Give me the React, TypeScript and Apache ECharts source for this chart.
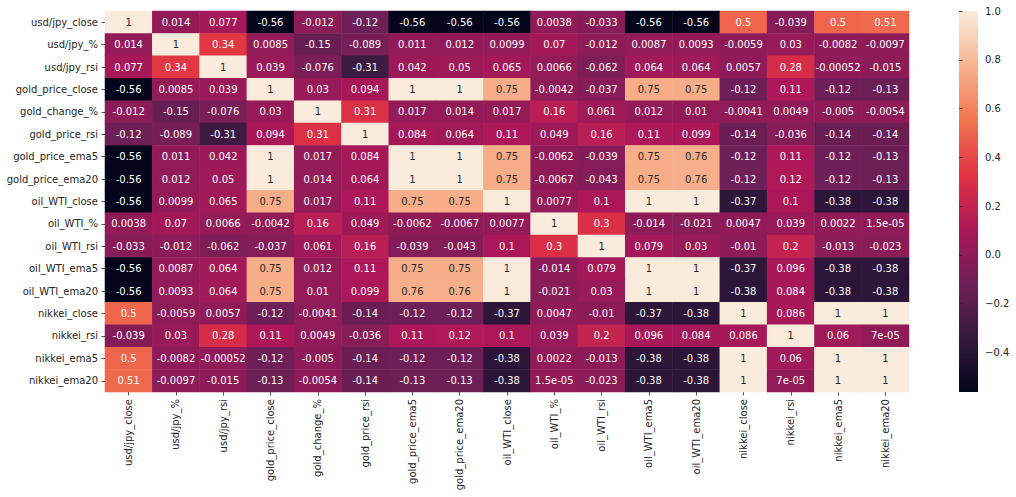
import React, { useEffect, useRef } from "react";
import * as echarts from "echarts";

const categories = [
  "usd/jpy_close", "usd/jpy_%", "usd/jpy_rsi", "gold_price_close", "gold_change_%",
  "gold_price_rsi", "gold_price_ema5", "gold_price_ema20", "oil_WTI_close", "oil_WTI_%",
  "oil_WTI_rsi", "oil_WTI_ema5", "oil_WTI_ema20", "nikkei_close", "nikkei_rsi",
  "nikkei_ema5", "nikkei_ema20",
];

const rowUsdJpyClose = [1, 0.014, 0.077, -0.56, -0.012, -0.12, -0.56, -0.56, -0.56, 0.0038, -0.033, -0.56, -0.56, 0.5, -0.039, 0.5, 0.51];
const rowUsdJpyPct = [0.014, 1, 0.34, 0.0085, -0.15, -0.089, 0.011, 0.012, 0.0099, 0.07, -0.012, 0.0087, 0.0093, -0.0059, 0.03, -0.0082, -0.0097];
const rowUsdJpyRsi = [0.077, 0.34, 1, 0.039, -0.076, -0.31, 0.042, 0.05, 0.065, 0.0066, -0.062, 0.064, 0.064, 0.0057, 0.28, -0.00052, -0.015];
const rowGoldClose = [-0.56, 0.0085, 0.039, 1, 0.03, 0.094, 1, 1, 0.75, -0.0042, -0.037, 0.75, 0.75, -0.12, 0.11, -0.12, -0.13];
const rowGoldChange = [-0.012, -0.15, -0.076, 0.03, 1, 0.31, 0.017, 0.014, 0.017, 0.16, 0.061, 0.012, 0.01, -0.0041, 0.0049, -0.005, -0.0054];
const rowGoldRsi = [-0.12, -0.089, -0.31, 0.094, 0.31, 1, 0.084, 0.064, 0.11, 0.049, 0.16, 0.11, 0.099, -0.14, -0.036, -0.14, -0.14];
const rowGoldEma5 = [-0.56, 0.011, 0.042, 1, 0.017, 0.084, 1, 1, 0.75, -0.0062, -0.039, 0.75, 0.76, -0.12, 0.11, -0.12, -0.13];
const rowGoldEma20 = [-0.56, 0.012, 0.05, 1, 0.014, 0.064, 1, 1, 0.75, -0.0067, -0.043, 0.75, 0.76, -0.12, 0.12, -0.12, -0.13];
const rowOilClose = [-0.56, 0.0099, 0.065, 0.75, 0.017, 0.11, 0.75, 0.75, 1, 0.0077, 0.1, 1, 1, -0.37, 0.1, -0.38, -0.38];
const rowOilPct = [0.0038, 0.07, 0.0066, -0.0042, 0.16, 0.049, -0.0062, -0.0067, 0.0077, 1, 0.3, -0.014, -0.021, 0.0047, 0.039, 0.0022, 1.5e-5];
const rowOilRsi = [-0.033, -0.012, -0.062, -0.037, 0.061, 0.16, -0.039, -0.043, 0.1, 0.3, 1, 0.079, 0.03, -0.01, 0.2, -0.013, -0.023];
const rowOilEma5 = [-0.56, 0.0087, 0.064, 0.75, 0.012, 0.11, 0.75, 0.75, 1, -0.014, 0.079, 1, 1, -0.37, 0.096, -0.38, -0.38];
const rowOilEma20 = [-0.56, 0.0093, 0.064, 0.75, 0.01, 0.099, 0.76, 0.76, 1, -0.021, 0.03, 1, 1, -0.38, 0.084, -0.38, -0.38];
const rowNikkeiClose = [0.5, -0.0059, 0.0057, -0.12, -0.0041, -0.14, -0.12, -0.12, -0.37, 0.0047, -0.01, -0.37, -0.38, 1, 0.086, 1, 1];
const rowNikkeiRsi = [-0.039, 0.03, 0.28, 0.11, 0.0049, -0.036, 0.11, 0.12, 0.1, 0.039, 0.2, 0.096, 0.084, 0.086, 1, 0.06, 7e-5];
const rowNikkeiEma5 = [0.5, -0.0082, -0.00052, -0.12, -0.005, -0.14, -0.12, -0.12, -0.38, 0.0022, -0.013, -0.38, -0.38, 1, 0.06, 1, 1];
const rowNikkeiEma20 = [0.51, -0.0097, -0.015, -0.13, -0.0054, -0.14, -0.13, -0.13, -0.38, 1.5e-5, -0.023, -0.38, -0.38, 1, 7e-5, 1, 1];

const corrRows = [
  rowUsdJpyClose, rowUsdJpyPct, rowUsdJpyRsi, rowGoldClose, rowGoldChange, rowGoldRsi,
  rowGoldEma5, rowGoldEma20, rowOilClose, rowOilPct, rowOilRsi, rowOilEma5, rowOilEma20,
  rowNikkeiClose, rowNikkeiRsi, rowNikkeiEma5, rowNikkeiEma20,
];

const colorbarTicks = [-0.4, -0.2, 0, 0.2, 0.4, 0.6, 0.8, 1.0];
const vMin = -0.563;
const vMax = 1;

const rocket = ["#03051a", "#35193e", "#701f57", "#ad1759", "#e13342", "#f37651", "#f6b48f", "#faebdd"];

function fmtG2(v: number): string {
  if (v === 0) return "0";
  const a = Math.abs(v);
  const e = Math.floor(Math.log10(Number(a.toPrecision(2))));
  if (e < -4 || e >= 2) {
    let s = v.toExponential(1);
    let [m, ex] = s.split("e");
    if (m.indexOf(".") >= 0) m = m.replace(/0+$/, "").replace(/\.$/, "");
    const sign = ex[0] === "-" ? "-" : "+";
    let digits = ex.replace(/^[+-]/, "");
    if (digits.length < 2) digits = "0" + digits;
    return m + "e" + sign + digits;
  }
  let s = v.toPrecision(2);
  if (s.indexOf(".") >= 0) s = s.replace(/0+$/, "").replace(/\.$/, "");
  return s;
}

const FONT = "DejaVu Sans";
const TEXT = "#262626";

export default function App() {
  const ref = useRef<HTMLDivElement>(null);
  useEffect(() => {
    if (!ref.current) return;
    const chart = echarts.init(ref.current, null, { renderer: "svg" });
    const data: any[] = [];
    corrRows.forEach((row, i) => {
      row.forEach((v, j) => {
        data.push({
          value: [j, i, v],
          label: { color: v > 0.65 ? TEXT : "#ffffff" },
        });
      });
    });
    const stops = rocket
      .map((c, k) => ({ offset: 1 - k / (rocket.length - 1), color: c }))
      .reverse();
    chart.setOption({
      animation: false,
      backgroundColor: "#ffffff",
      grid: [
        { left: 105, top: 11, width: 804, height: 381 },
        { left: 959, top: 11, width: 19, height: 381 },
      ],
      xAxis: [
        {
          type: "category",
          gridIndex: 0,
          data: categories,
          position: "bottom",
          axisLine: { show: false },
          axisTick: { show: true, alignWithLabel: true, length: 3.5, lineStyle: { color: TEXT, width: 0.8 } },
          axisLabel: { rotate: 90, interval: 0, margin: 7, fontFamily: FONT, fontSize: 10, color: TEXT },
          splitLine: { show: false },
        },
        { type: "value", gridIndex: 1, show: false, min: 0, max: 1 },
      ],
      yAxis: [
        {
          type: "category",
          gridIndex: 0,
          data: categories,
          inverse: true,
          axisLine: { show: false },
          axisTick: { show: true, alignWithLabel: true, length: 3.5, lineStyle: { color: TEXT, width: 0.8 } },
          axisLabel: { interval: 0, margin: 7, fontFamily: FONT, fontSize: 10, color: TEXT },
          splitLine: { show: false },
        },
        {
          type: "value",
          gridIndex: 1,
          position: "right",
          min: vMin,
          max: vMax,
          axisLine: { show: false },
          splitLine: { show: false },
          axisTick: { show: true, length: 3.5, customValues: colorbarTicks, lineStyle: { color: TEXT, width: 0.8 } },
          axisLabel: {
            customValues: colorbarTicks,
            margin: 7,
            fontFamily: FONT,
            fontSize: 10,
            color: TEXT,
            formatter: (v: number) => (v < -1e-9 ? "\u2212" + Math.abs(v).toFixed(1) : Math.abs(v).toFixed(1)),
          },
        },
      ],
      visualMap: {
        show: false,
        type: "continuous",
        min: vMin,
        max: vMax,
        dimension: 2,
        seriesIndex: 0,
        inRange: { color: rocket },
      },
      graphic: [
        {
          type: "rect",
          shape: { x: 959, y: 11, width: 19, height: 381 },
          style: { fill: new echarts.graphic.LinearGradient(0, 0, 0, 1, stops) },
          silent: true,
        },
      ],
      series: [
        {
          type: "heatmap",
          xAxisIndex: 0,
          yAxisIndex: 0,
          data,
          label: {
            show: true,
            fontFamily: FONT,
            fontSize: 10,
            formatter: (p: any) => fmtG2(p.value[2]),
          },
          emphasis: { disabled: true },
          itemStyle: { borderWidth: 0 },
        },
      ],
    });
    return () => chart.dispose();
  }, []);
  return (
    <div
      ref={ref}
      style={{ position: "fixed", left: 0, top: 0, width: 1016, height: 497, background: "#fff" }}
    />
  );
}
